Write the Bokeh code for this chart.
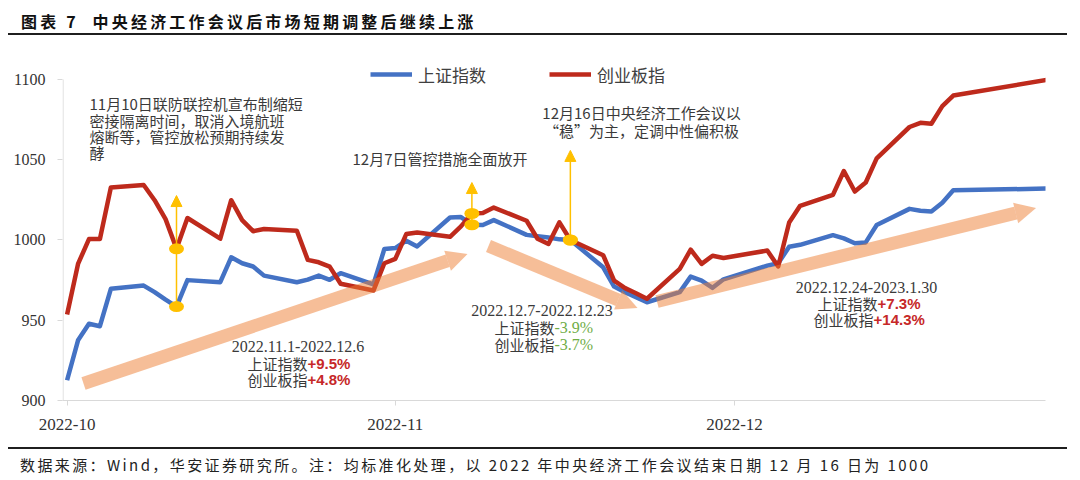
import pandas as pd
from bokeh.plotting import figure
from bokeh.models import (Range1d, FixedTicker, Legend, LegendItem, Arrow, NormalHead, Div)
from bokeh.layouts import column
from bokeh.core.properties import value
from bokeh.embed import file_html
from bokeh.resources import INLINE

# ---------------- data ----------------
dates = ["2022-10-31", "2022-11-01", "2022-11-02", "2022-11-03", "2022-11-04",
         "2022-11-07", "2022-11-08", "2022-11-09", "2022-11-10", "2022-11-11",
         "2022-11-14", "2022-11-15", "2022-11-16", "2022-11-17", "2022-11-18",
         "2022-11-21", "2022-11-22", "2022-11-23", "2022-11-24", "2022-11-25",
         "2022-11-28", "2022-11-29", "2022-11-30", "2022-12-01", "2022-12-02",
         "2022-12-05", "2022-12-06", "2022-12-07", "2022-12-08", "2022-12-09",
         "2022-12-12", "2022-12-13", "2022-12-14", "2022-12-15", "2022-12-16",
         "2022-12-19", "2022-12-20", "2022-12-21", "2022-12-22", "2022-12-23",
         "2022-12-26", "2022-12-27", "2022-12-28", "2022-12-29", "2022-12-30",
         "2023-01-03", "2023-01-04", "2023-01-05", "2023-01-06",
         "2023-01-09", "2023-01-10", "2023-01-11", "2023-01-12", "2023-01-13",
         "2023-01-16", "2023-01-17", "2023-01-18", "2023-01-19", "2023-01-20",
         "2023-01-30"]

shanghai = [912.6, 937.5, 947.8, 946.3, 969.6,
            971.6, 967.5, 962.8, 958.5, 975.0,
            973.7, 989.2, 985.5, 983.5, 977.8,
            973.7, 975.3, 977.8, 975.2, 979.3,
            972.3, 994.4, 995.0, 999.6, 996.0,
            1014.0, 1014.3, 1009.5, 1009.3, 1012.4,
            1003.2, 1002.3, 1001.5, 1000.4, 1000.0,
            983.0, 971.0, 967.5, 964.3, 961.2,
            967.5, 977.2, 974.7, 970.2, 975.5,
            984.0, 985.5, 995.8, 997.0,
            1003.0, 1001.0, 998.0, 998.5, 1009.3,
            1019.4, 1018.2, 1017.8, 1023.2, 1031.0,
            1032.2]

chinext = [953.6, 985.1, 1000.6, 1000.6, 1032.7,
           1034.3, 1024.8, 1013.0, 994.5, 1013.7,
           1000.8, 1024.8, 1012.4, 1005.5, 1006.8,
           1005.8, 987.6, 986.1, 983.4, 972.7,
           968.5, 985.5, 988.2, 1003.7, 1004.7,
           1002.0, 1008.5, 1016.5, 1016.8, 1020.2,
           1012.0, 1000.8, 997.5, 1011.0, 1000.0,
           990.5, 974.7, 970.0, 966.8, 963.4,
           982.0, 994.0, 985.1, 990.2, 988.8,
           993.4, 983.5, 1010.9, 1021.3,
           1028.1, 1043.0, 1030.2, 1035.8, 1050.9,
           1070.4, 1073.0, 1072.4, 1083.4, 1090.0,
           1101.4]

series_names = ["上证指数", "创业板指"]
x_tick_labels = ["2022-10", "2022-11", "2022-12"]
y_ticks = [900, 950, 1000, 1050, 1100]

event_dates = ["2022-11-10", "2022-12-07", "2022-12-16"]
event_tip_values = [1027.7, 1035.8, 1055.8]

# ---------------- helpers ----------------
origin = pd.Timestamp("2022-10-31")
days = [(pd.Timestamp(d) - origin).days for d in dates]
tick_days = [0, 30, 61]
X_START, X_END = -0.42, 89.43
Y_TOP = 1113.08   # room above the 1100 tick for the legend


def ax(sx):
    return (sx - 66.6) / 10.94


def ay(sy):
    return 1000 + (239.5 - sy) / 1.605


BLUE = "#4472C4"
RED = "#BE2A1C"
GOLD = "#FFC000"
PEACH = "#ED7D31"
TXT = "#3A3A3A"
AXIS = "#D9D9D9"
CJK = "Noto Sans CJK SC"
SERIF = "Liberation Serif"

p = figure(width=1072, height=410,
           x_range=Range1d(X_START, X_END), y_range=Range1d(y_ticks[0], Y_TOP),
           output_backend="svg", toolbar_location=None,
           min_border_left=62, min_border_right=27,
           min_border_top=21, min_border_bottom=47)
p.outline_line_color = None
p.grid.visible = False
p.background_fill_color = "white"
p.border_fill_color = "white"

# axes
p.xaxis.ticker = FixedTicker(ticks=tick_days)
p.xaxis.major_label_overrides = {d: lab for d, lab in zip(tick_days, x_tick_labels)}
p.yaxis.ticker = FixedTicker(ticks=y_ticks)
for axis in (p.xaxis, p.yaxis):
    axis.axis_line_color = AXIS
    axis.axis_line_width = 1
    axis.major_tick_line_color = AXIS
    axis.major_tick_out = 5
    axis.major_tick_in = 0
    axis.minor_tick_line_color = None
    axis.major_label_text_font = SERIF
    axis.major_label_text_color = "#333333"
p.yaxis.axis_line_color = None
p.yaxis.major_label_text_font_size = "16px"
p.yaxis.major_label_standoff = 12
p.xaxis.major_label_text_font_size = "17px"
p.xaxis.major_label_standoff = 13
# value-axis line only spans the tick range (900-1100)
p.segment(x0=[X_START + 0.05], y0=[y_ticks[0]], x1=[X_START + 0.05], y1=[y_ticks[-1]],
          line_color=AXIS, line_width=1)

# lines
r_sh = p.line(days, shanghai, line_color=BLUE, line_width=4.5, line_join="round")
r_cy = p.line(days, chinext, line_color=RED, line_width=4.5, line_join="round")

legend = Legend(items=[LegendItem(label=series_names[0], renderers=[r_sh]),
                       LegendItem(label=series_names[1], renderers=[r_cy])],
                orientation="horizontal", location=(308, 313),
                label_text_font=CJK, label_text_font_size="17px",
                label_text_color="#404040", glyph_width=42, glyph_height=26,
                label_height=26, label_standoff=6, spacing=63,
                padding=0, margin=0, border_line_alpha=0, background_fill_alpha=0)
p.add_layout(legend)

# peach trend arrows (annotations)
peach_arrows = [((83, 383), (467, 253.5)),
                ((488, 245.5), (637, 307.5)),
                ((656.5, 301), (1035.5, 207.5))]
for (x0, y0), (x1, y1) in peach_arrows:
    p.add_layout(Arrow(end=NormalHead(size=21, fill_color=PEACH, fill_alpha=0.5,
                                      line_color=None),
                       x_start=ax(x0), y_start=ay(y0), x_end=ax(x1), y_end=ay(y1),
                       line_color=PEACH, line_alpha=0.5, line_width=13,
                       line_cap="butt"))

# event markers
ev_x, ev_lo, ev_hi = [], [], []
for d in event_dates:
    i = dates.index(d)
    ev_x.append(days[i])
    ev_lo.append(min(shanghai[i], chinext[i]))
    ev_hi.append(max(shanghai[i], chinext[i]))
for x, lo, tip in zip(ev_x, ev_lo, event_tip_values):
    p.add_layout(Arrow(end=NormalHead(size=11, fill_color=GOLD, line_color=GOLD),
                       x_start=x, y_start=lo, x_end=x, y_end=tip,
                       line_color=GOLD, line_width=1.5))
p.ellipse(ev_x + ev_x, ev_lo + ev_hi, width=15, height=11,
          width_units="screen", height_units="screen",
          fill_color=GOLD, line_color=None)


def txt(items, align, color, font, size, style="normal"):
    p.text(x=[ax(a) for a, b, c in items], y=[ay(b) for a, b, c in items],
           text=[c for a, b, c in items], text_align=align, text_baseline="middle",
           text_color=color, text_font=value(font), text_font_size=size,
           text_font_style=style)


# event texts
txt([(89, 103, "11月10日联防联控机宣布制缩短"),
     (89, 120, "密接隔离时间，取消入境航班"),
     (89, 136, "熔断等，管控放松预期持续发"),
     (89, 152, "酵"),
     (352, 158, "12月7日管控措施全面放开")], "left", TXT, CJK, "15px")
txt([(641, 112, "12月16日中央经济工作会议以"),
     (641, 130, "“稳”为主，定调中性偏积极")], "center", TXT, CJK, "15px")

# period texts
txt([(297.5, 346, "2022.11.1-2022.12.6"),
     (541.5, 310, "2022.12.7-2022.12.23"),
     (866, 287, "2022.12.24-2023.1.30")], "center", TXT, SERIF, "16px")
txt([(307, 363, "上证指数"), (307, 379, "创业板指"),
     (554, 327, "上证指数"), (554, 344, "创业板指"),
     (877, 303, "上证指数"), (873, 319, "创业板指")], "right", TXT, CJK, "15px")
txt([(307, 363, "+9.5%"), (307, 379, "+4.8%"),
     (877, 303, "+7.3%"), (873, 319, "+14.3%")], "left", "#C62828",
    "Liberation Sans", "15px", "bold")
txt([(554, 327, "-3.9%"), (554, 344, "-3.7%")], "left", "#70AD47", SERIF, "16px")

title = Div(width=1072, height=37, margin=0, text=(
    '<div style="margin-left:8px;width:1059px;height:35px;box-sizing:border-box;'
    'padding:11px 0 0 13px;border-bottom:2px solid #1f1f1f;'
    "font-family:'Noto Sans CJK SC';font-size:16px;font-weight:bold;line-height:20px;"
    'letter-spacing:3.2px;color:#111;white-space:nowrap;">图表 7&nbsp; 中央经济工作会议后市场短期调整后继续上涨</div>'))
footer = Div(width=1072, height=25, margin=0, text=(
    '<div style="margin-left:8px;width:1059px;box-sizing:border-box;border-top:2px solid #1f1f1f;'
    'padding:7px 0 0 12px;font-family:\'Noto Sans CJK SC\';font-size:15px;'
    'line-height:18px;letter-spacing:2.4px;color:#222;white-space:nowrap;">'
    '数据来源：Wind，华安证券研究所。注：均标准化处理，以 2022 年中央经济工作会议结束日期 12 月 16 日为 1000</div>'))
p.margin = 0

layout = column(title, p, footer, spacing=0)
open("out.html", "w").write(file_html(layout, INLINE))
